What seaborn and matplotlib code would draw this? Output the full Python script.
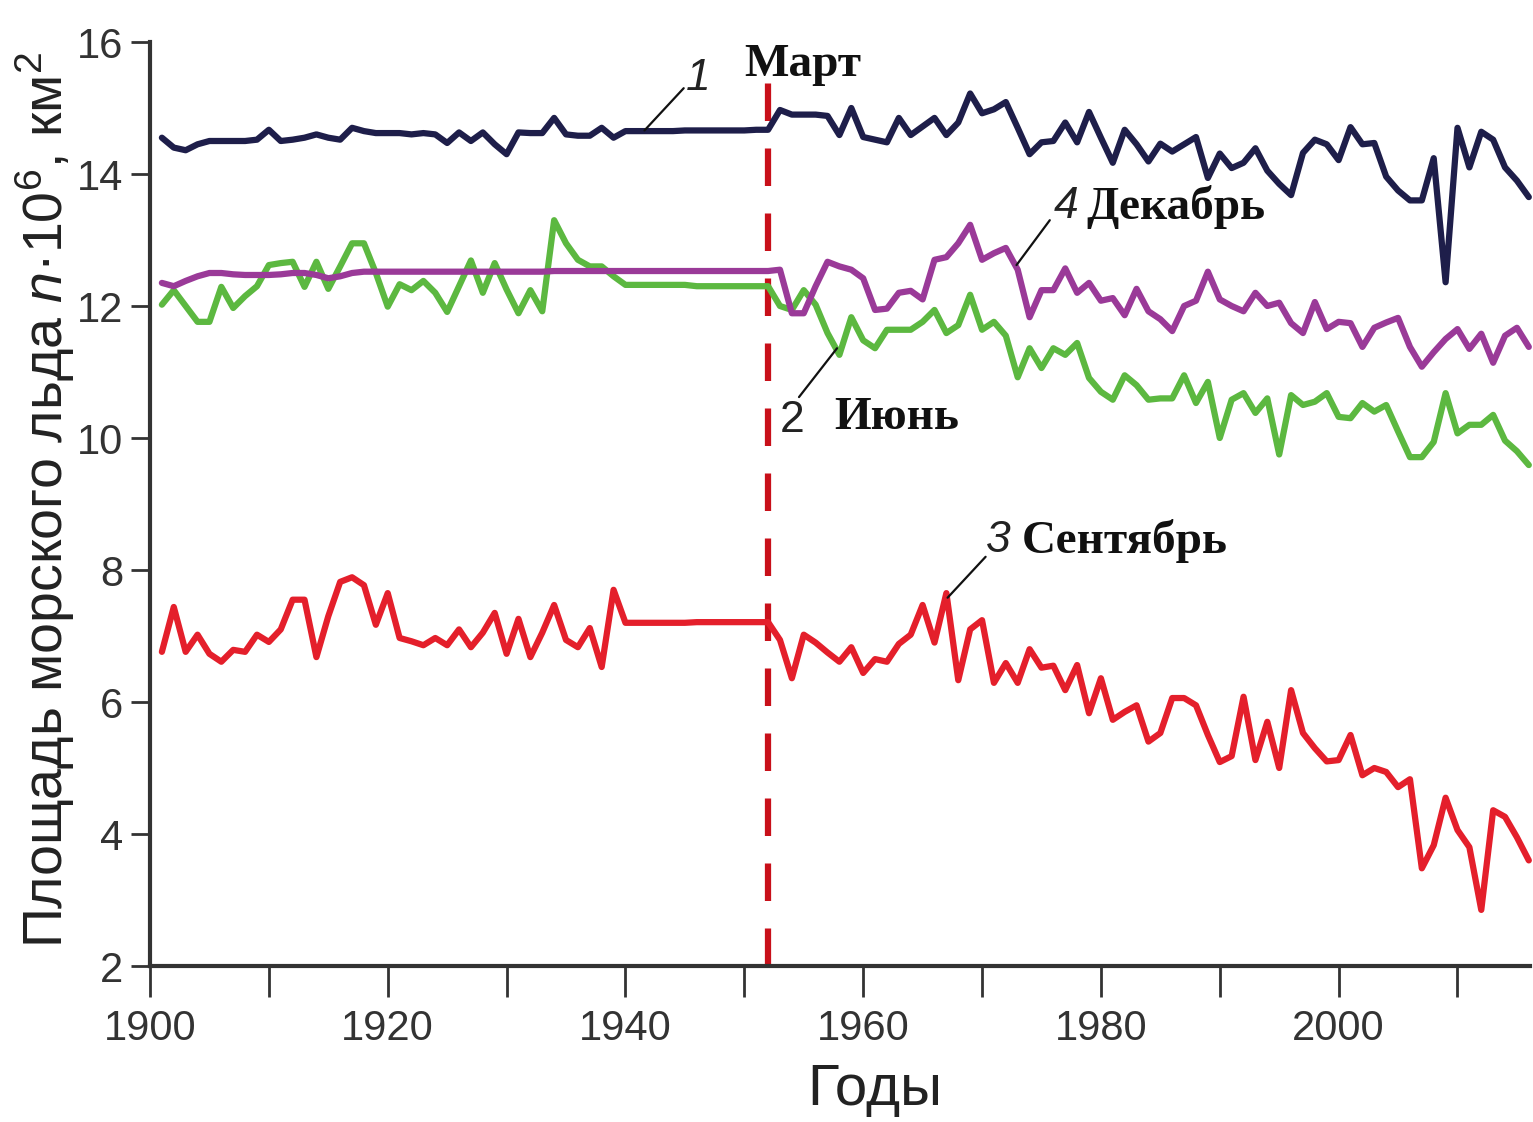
import numpy as np
import pandas as pd
import matplotlib
matplotlib.use("Agg")
import matplotlib.pyplot as plt
import seaborn as sns

# Sea-ice extent, million km², by month
years = list(range(1901, 2017))

march = [
    14.55, 14.40, 14.36, 14.45, 14.50, 14.50, 14.50, 14.50, 14.52, 14.67,
    14.50, 14.52, 14.55, 14.60, 14.55, 14.52, 14.70, 14.65, 14.62, 14.62,
    14.62, 14.60, 14.62, 14.60, 14.47, 14.63, 14.50, 14.63, 14.45, 14.30,
    14.63, 14.62, 14.62, 14.85, 14.60, 14.58, 14.58, 14.70, 14.55, 14.65,
    14.65, 14.65, 14.65, 14.65, 14.66, 14.66, 14.66, 14.66, 14.66, 14.66,
    14.67, 14.67, 14.97, 14.90, 14.90, 14.90, 14.88, 14.59, 15.00, 14.56,
    14.52, 14.48, 14.85, 14.59, 14.72, 14.85, 14.59, 14.78, 15.22, 14.92,
    14.98, 15.09, 14.70, 14.30, 14.48, 14.50, 14.78, 14.48, 14.94, 14.55,
    14.17, 14.67, 14.45, 14.19, 14.46, 14.34, 14.45, 14.56, 13.94, 14.31,
    14.09, 14.17, 14.39, 14.05, 13.85, 13.68, 14.32, 14.52, 14.45, 14.21,
    14.71, 14.45, 14.47, 13.96, 13.75, 13.60, 13.60, 14.24, 12.36, 14.70,
    14.10, 14.64, 14.52, 14.10, 13.90, 13.65,
]

june = [
    12.02, 12.24, 12.00, 11.76, 11.76, 12.29, 11.97, 12.15, 12.30, 12.62,
    12.65, 12.67, 12.29, 12.67, 12.26, 12.60, 12.95, 12.95, 12.50, 11.99,
    12.33, 12.24, 12.38, 12.20, 11.91, 12.30, 12.69, 12.20, 12.65, 12.25,
    11.89, 12.24, 11.92, 13.30, 12.95, 12.70, 12.60, 12.60, 12.45, 12.32,
    12.32, 12.32, 12.32, 12.32, 12.32, 12.30, 12.30, 12.30, 12.30, 12.30,
    12.30, 12.30, 12.00, 11.94, 12.24, 12.02, 11.59, 11.26, 11.83, 11.48,
    11.36, 11.64, 11.64, 11.64, 11.76, 11.94, 11.59, 11.71, 12.17, 11.64,
    11.76, 11.55, 10.92, 11.36, 11.06, 11.36, 11.26, 11.44, 10.91, 10.70,
    10.58, 10.95, 10.80, 10.58, 10.60, 10.60, 10.95, 10.53, 10.85, 10.00,
    10.58, 10.68, 10.38, 10.60, 9.75, 10.65, 10.50, 10.55, 10.68, 10.32,
    10.30, 10.53, 10.40, 10.50, 10.10, 9.71, 9.71, 9.94, 10.68, 10.07,
    10.20, 10.20, 10.35, 9.96, 9.80, 9.59,
]

september = [
    6.76, 7.44, 6.76, 7.02, 6.73, 6.61, 6.79, 6.76, 7.02, 6.91,
    7.10, 7.55, 7.55, 6.68, 7.30, 7.82, 7.89, 7.77, 7.17, 7.65,
    6.97, 6.92, 6.86, 6.97, 6.86, 7.10, 6.83, 7.05, 7.35, 6.73,
    7.26, 6.68, 7.05, 7.47, 6.94, 6.83, 7.12, 6.53, 7.70, 7.20,
    7.20, 7.20, 7.20, 7.20, 7.20, 7.21, 7.21, 7.21, 7.21, 7.21,
    7.21, 7.21, 6.94, 6.36, 7.02, 6.90, 6.75, 6.61, 6.83, 6.44,
    6.65, 6.61, 6.88, 7.02, 7.47, 6.90, 7.65, 6.33, 7.10, 7.24,
    6.29, 6.59, 6.29, 6.80, 6.52, 6.55, 6.18, 6.56, 5.83, 6.36,
    5.73, 5.85, 5.95, 5.40, 5.53, 6.06, 6.06, 5.95, 5.50, 5.09,
    5.18, 6.08, 5.12, 5.70, 5.00, 6.18, 5.53, 5.30, 5.10, 5.12,
    5.50, 4.89, 5.00, 4.94, 4.71, 4.83, 3.48, 3.83, 4.55, 4.06,
    3.80, 2.85, 4.36, 4.26, 3.95, 3.60,
]

december = [
    12.35, 12.30, 12.38, 12.45, 12.50, 12.50, 12.48, 12.47, 12.47, 12.47,
    12.48, 12.50, 12.50, 12.47, 12.42, 12.45, 12.50, 12.52, 12.52, 12.52,
    12.52, 12.52, 12.52, 12.52, 12.52, 12.52, 12.52, 12.52, 12.52, 12.52,
    12.52, 12.52, 12.52, 12.53, 12.53, 12.53, 12.53, 12.53, 12.53, 12.53,
    12.53, 12.53, 12.53, 12.53, 12.53, 12.53, 12.53, 12.53, 12.53, 12.53,
    12.53, 12.53, 12.55, 11.89, 11.89, 12.30, 12.67, 12.60, 12.55, 12.42,
    11.94, 11.96, 12.20, 12.23, 12.10, 12.70, 12.74, 12.95, 13.23, 12.70,
    12.80, 12.88, 12.55, 11.83, 12.24, 12.24, 12.57, 12.20, 12.35, 12.08,
    12.12, 11.86, 12.26, 11.92, 11.80, 11.62, 12.00, 12.08, 12.52, 12.10,
    12.00, 11.92, 12.20, 12.00, 12.05, 11.74, 11.59, 12.06, 11.65, 11.76,
    11.74, 11.38, 11.67, 11.75, 11.82, 11.38, 11.08, 11.30, 11.50, 11.65,
    11.35, 11.58, 11.14, 11.55, 11.67, 11.38,
]

months = ["Сентябрь", "Июнь", "Декабрь", "Март"]
colors = ["#e41f2b", "#5cb840", "#9a3a98", "#1e1e4a"]
break_year = 1952

df = pd.concat([
    pd.DataFrame({"year": years, "area": vals, "month": m})
    for m, vals in zip(months, [september, june, december, march])
])

sns.set_style("ticks")
plt.rcParams["font.family"] = ["Liberation Sans", "DejaVu Sans"]
plt.rcParams["mathtext.fontset"] = "custom"
plt.rcParams["mathtext.rm"] = "Liberation Sans"
plt.rcParams["mathtext.it"] = "Liberation Sans:italic"

fig = plt.figure(figsize=(15.33, 11.22), dpi=100)
ax = fig.add_axes([150 / 1533, 1 - 966 / 1122, (1530 - 150) / 1533, (966 - 42) / 1122])

ax.vlines(break_year, 2, 15.45, colors="#c8101a", linewidth=4.5,
          linestyles=(0, (6.0, 4.4)), zorder=1)

sns.lineplot(data=df, x="year", y="area", hue="month", hue_order=months,
             palette=colors, linewidth=4.5, legend=False, ax=ax, zorder=3)
for line in ax.lines:
    line.set_clip_on(False)
    line.set_solid_joinstyle("round")

ax.set_xlim(1900, 2016.1)
ax.set_ylim(2, 16)
ax.set_xticks(range(1900, 2011, 10))
ax.set_xticklabels([str(y) if y % 20 == 0 else "" for y in range(1900, 2011, 10)])
ax.set_yticks(range(2, 17, 2))
ax.tick_params(axis="x", length=22, width=2, pad=9, labelsize=30,
               colors="#333333")
ax.tick_params(axis="y", length=14, width=2, pad=5, labelsize=30,
               colors="#333333")
for side in ["top", "right"]:
    ax.spines[side].set_visible(False)
for side in ["left", "bottom"]:
    ax.spines[side].set_linewidth(3)
    ax.spines[side].set_color("#333333")
ax.set_xlabel("")
ax.set_ylabel("")

fig.text(45 / 1533, 1 - 500 / 1122,
         r"Площадь морского льда $n$·10$^6$, км$^2$",
         rotation=90, ha="center", va="center", fontsize=40, color="#222222")
fig.text(875 / 1533, 1 - 1090 / 1122, "Годы", ha="center", va="center",
         fontsize=42, color="#222222")

# month names
serif = dict(family=["Liberation Serif", "DejaVu Serif"], fontweight="bold",
             fontsize=34, color="#111111", va="center", ha="left")
ax.text(1950.0, 15.65, "Март", **serif)
ax.text(1978.8, 13.5, "Декабрь", **serif)
ax.text(1957.6, 10.3, "Июнь", **serif)
ax.text(1973.3, 8.44, "Сентябрь", **serif)

# curve numbers with leader lines
num = dict(fontsize=32, style="italic", color="#222222", ha="center", va="center")
ax.text(1946.1, 15.45, "1", **num)
ax.text(1977.1, 13.5, "4", **num)
ax.text(1954.0, 10.27, "2", fontsize=32, color="#222222", ha="center", va="center")
ax.text(1971.4, 8.45, "3", **num)

leader = dict(color="#111111", linewidth=1.6, zorder=4)
ax.plot([1941.6, 1944.9], [14.66, 15.3], **leader)
ax.plot([1972.9, 1975.7], [12.62, 13.3], **leader)
ax.plot([1957.8, 1954.6], [11.36, 10.62], **leader)
ax.plot([1967.1, 1970.3], [7.58, 8.2], **leader)

fig.savefig("out.png", dpi=100)
